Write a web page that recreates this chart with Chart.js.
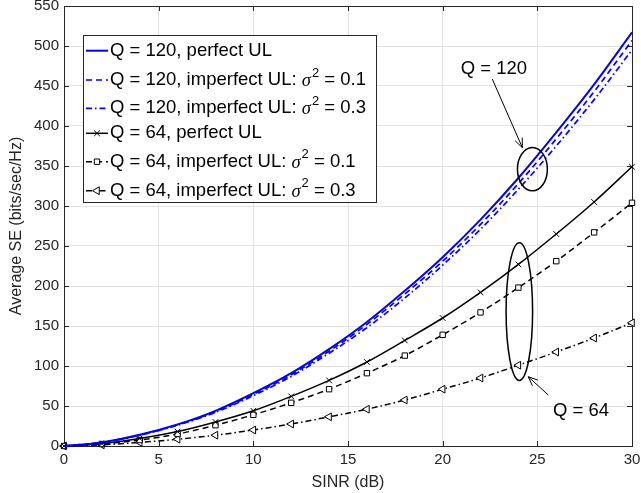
<!DOCTYPE html>
<html>
<head>
<meta charset="utf-8">
<title>Average SE vs SINR</title>
<script src="https://cdn.jsdelivr.net/npm/chart.js@4.4.1/dist/chart.umd.min.js"></script>
<style>
  html, body { margin: 0; padding: 0; background: #fff; }
  #wrap { width: 641px; height: 493px; }
</style>
</head>
<body>
<div id="wrap"><canvas id="seChart" width="641" height="493"></canvas></div>
<script>
// SINR en dB (marcadores cada 2 dB)
const sinrDb = [0, 2, 4, 6, 8, 10, 12, 14, 16, 18, 20, 22, 24, 26, 28, 30];

// Q = 120
const seQ120Perfect = [0, 4.5, 14, 27, 44, 66, 91, 121, 155, 194, 236, 283, 335, 392, 452, 517];
const seQ120Sigma01 = [0, 4.4, 13.7, 26.5, 43, 64.5, 89, 118.5, 152, 190, 231, 277, 328, 384, 443, 507];
const seQ120Sigma03 = [0, 4.3, 13.4, 26, 42, 63, 87, 116, 148, 185, 226, 271, 321, 375, 433, 495];

// Q = 64
const seQ64Perfect = [0, 3, 9.5, 18, 30, 44, 62, 82, 105, 132, 160, 192, 227, 265, 305, 349];
const seQ64Sigma01 = [0, 2.5, 7.5, 15, 26, 39, 54, 71, 91, 113, 139, 167, 198, 231, 267, 304];
const seQ64Sigma03 = [0, 1.5, 4.5, 8.5, 13.5, 20, 27.5, 36.5, 46, 57.5, 71, 85, 101, 117.5, 135, 154];

// textos de la leyenda y valor de sigma^2 (null = UL perfecto)
const seriesNames = [
  'Q = 120, perfect UL',
  'Q = 120, imperfect UL:',
  'Q = 120, imperfect UL:',
  'Q = 64, perfect UL',
  'Q = 64, imperfect UL:',
  'Q = 64, imperfect UL:'
];
const sigmaValues = [null, '0.1', '0.3', null, '0.1', '0.3'];

// ejes
const xRange = [0, 30];
const xStep = 5;
const yRange = [0, 550];
const yStep = 50;

const FONT = '"Liberation Sans", Arial, Helvetica, sans-serif';
const AXIS_COLOR = '#262626';

const toPoints = (ys) => sinrDb.map((x, i) => ({ x: x, y: ys[i] }));

const dashed = [6, 4];
const dashDot = [6, 3, 1.5, 3];

const seriesValues = [seQ120Perfect, seQ120Sigma01, seQ120Sigma03, seQ64Perfect, seQ64Sigma01, seQ64Sigma03];
const seriesStyles = [
  { borderColor: '#0000ff', borderWidth: 2, borderDash: [], pointRadius: 0 },
  { borderColor: '#0000ff', borderWidth: 1.7, borderDash: dashed, pointRadius: 0 },
  { borderColor: '#0000ff', borderWidth: 1.7, borderDash: dashDot, pointRadius: 0 },
  { borderColor: '#000', borderWidth: 1.5, borderDash: [], pointStyle: 'crossRot', pointRadius: 4, pointRotation: 0 },
  { borderColor: '#000', borderWidth: 1.5, borderDash: dashed, pointStyle: 'rect', pointRadius: 3.8, pointRotation: 0 },
  { borderColor: '#000', borderWidth: 1.5, borderDash: dashDot, pointStyle: 'triangle', pointRadius: 4.5, pointRotation: -90 }
];

const datasets = seriesValues.map((vals, i) => Object.assign({
  label: seriesNames[i] + (sigmaValues[i] ? ' \u03c3\u00b2 = ' + sigmaValues[i] : ''),
  data: toPoints(vals),
  pointBackgroundColor: '#fff',
  pointBorderColor: seriesStyles[i].borderColor,
  pointBorderWidth: 1,
  pointHoverRadius: 0,
  fill: false,
  cubicInterpolationMode: 'monotone',
  clip: false
}, seriesStyles[i]));

// marco tipo MATLAB con ticks hacia adentro
const frameAxes = {
  id: 'frameAxes',
  beforeDatasetsDraw(chart) {
    const { ctx, chartArea: a, scales } = chart;
    ctx.save();
    ctx.strokeStyle = AXIS_COLOR;
    ctx.lineWidth = 1;
    ctx.setLineDash([]);
    ctx.strokeRect(Math.round(a.left) + 0.5, Math.round(a.top) + 0.5,
      Math.round(a.right - a.left), Math.round(a.bottom - a.top));
    const len = 5;
    ctx.beginPath();
    scales.x.ticks.forEach(t => {
      const px = Math.round(scales.x.getPixelForValue(t.value)) + 0.5;
      ctx.moveTo(px, a.bottom); ctx.lineTo(px, a.bottom - len);
      ctx.moveTo(px, a.top); ctx.lineTo(px, a.top + len);
    });
    scales.y.ticks.forEach(t => {
      const py = Math.round(scales.y.getPixelForValue(t.value)) + 0.5;
      ctx.moveTo(a.left, py); ctx.lineTo(a.left + len, py);
      ctx.moveTo(a.right, py); ctx.lineTo(a.right - len, py);
    });
    ctx.stroke();
    ctx.restore();
  }
};

// leyenda dentro del area del grafico
const legendBox = {
  id: 'legendBox',
  afterDraw(chart) {
    const ctx = chart.ctx;
    const box = { x: 83.5, y: 35.5, w: 293, h: 167 };
    const rows = [50.7, 80, 108.3, 133.3, 161.7, 190.7];
    ctx.save();
    ctx.fillStyle = '#fff';
    ctx.fillRect(box.x, box.y, box.w, box.h);
    ctx.strokeStyle = AXIS_COLOR;
    ctx.lineWidth = 1;
    ctx.strokeRect(box.x, box.y, box.w, box.h);

    chart.data.datasets.forEach((ds, i) => {
      const y = rows[i];
      ctx.strokeStyle = ds.borderColor;
      ctx.lineWidth = ds.borderWidth;
      ctx.setLineDash(ds.borderDash);
      ctx.beginPath();
      ctx.moveTo(86, y);
      ctx.lineTo(108, y);
      ctx.stroke();
      if (ds.pointRadius > 0) {
        ctx.setLineDash([]);
        ctx.lineWidth = 1;
        ctx.fillStyle = '#fff';
        Chart.helpers.drawPoint(ctx, {
          pointStyle: ds.pointStyle,
          radius: ds.pointRadius,
          rotation: ds.pointRotation,
          borderWidth: 1
        }, 97, y);
      }

      ctx.fillStyle = '#000';
      ctx.textBaseline = 'middle';
      ctx.font = '18.5px ' + FONT;
      let tx = 110;
      ctx.fillText(seriesNames[i], tx, y);
      if (sigmaValues[i]) {
        tx += ctx.measureText(seriesNames[i] + ' ').width;
        ctx.font = 'italic 18.5px "Liberation Serif", "Times New Roman", serif';
        ctx.fillText('\u03c3', tx, y + 1);
        tx += ctx.measureText('\u03c3').width + 1;
        ctx.font = '13px ' + FONT;
        ctx.fillText('2', tx, y - 7);
        tx += ctx.measureText('2').width;
        ctx.font = '18.5px ' + FONT;
        ctx.fillText(' = ' + sigmaValues[i], tx, y);
      }
    });
    ctx.restore();
  }
};

// elipses, flechas y etiquetas Q = 120 / Q = 64
const groupNotes = {
  id: 'groupNotes',
  afterDraw(chart) {
    const { ctx, scales } = chart;
    const sx = (v) => scales.x.getPixelForValue(v);
    const sy = (v) => scales.y.getPixelForValue(v);
    const notes = [
      { text: 'Q = 120', tx: 22.71, ty: 471, cx: 24.74, cy: 346, rx: 0.79, ry: 27,
        from: [22.62, 458.7], to: [24.21, 372.9] },
      { text: 'Q = 64', tx: 27.31, ty: 44, cx: 24.05, cy: 168, rx: 0.70, ry: 86,
        from: [25.58, 63.7], to: [24.52, 86.6] }
    ];
    ctx.save();
    ctx.strokeStyle = '#000';
    ctx.fillStyle = '#000';
    ctx.setLineDash([]);
    notes.forEach(n => {
      const cx = sx(n.cx), cy = sy(n.cy);
      ctx.lineWidth = 1.5;
      ctx.beginPath();
      ctx.ellipse(cx, cy, sx(n.cx + n.rx) - cx, cy - sy(n.cy + n.ry), 0, 0, Math.PI * 2);
      ctx.stroke();

      const x0 = sx(n.from[0]), y0 = sy(n.from[1]);
      const x1 = sx(n.to[0]), y1 = sy(n.to[1]);
      ctx.lineWidth = 1;
      ctx.beginPath();
      ctx.moveTo(x0, y0);
      ctx.lineTo(x1, y1);
      const ang = Math.atan2(y1 - y0, x1 - x0);
      const head = 10, spread = 0.4;
      ctx.moveTo(x1 - head * Math.cos(ang - spread), y1 - head * Math.sin(ang - spread));
      ctx.lineTo(x1, y1);
      ctx.lineTo(x1 - head * Math.cos(ang + spread), y1 - head * Math.sin(ang + spread));
      ctx.stroke();

      ctx.font = '18.5px ' + FONT;
      ctx.textAlign = 'center';
      ctx.textBaseline = 'middle';
      ctx.fillText(n.text, sx(n.tx), sy(n.ty));
    });
    ctx.restore();
  }
};

Chart.defaults.font.family = FONT;
Chart.defaults.color = AXIS_COLOR;

new Chart(document.getElementById('seChart'), {
  type: 'line',
  data: { datasets: datasets },
  options: {
    responsive: false,
    animation: false,
    devicePixelRatio: 1,
    layout: { padding: { top: 6, right: 9, left: 0, bottom: 0 } },
    plugins: {
      legend: { display: false },
      tooltip: { enabled: false }
    },
    scales: {
      x: {
        type: 'linear',
        min: xRange[0],
        max: xRange[1],
        ticks: { stepSize: xStep, font: { size: 15 }, color: AXIS_COLOR, padding: 5, maxRotation: 0 },
        grid: { color: '#e3e3e3', drawTicks: false },
        border: { display: false },
        title: { display: true, text: 'SINR (dB)', font: { size: 16 }, color: AXIS_COLOR, padding: { top: 0, bottom: 0.5 } },
        afterFit(scale) {
          scale.height = 47;
          scale.paddingLeft = 0;
          scale.paddingRight = 0;
        }
      },
      y: {
        type: 'linear',
        min: yRange[0],
        max: yRange[1],
        ticks: { stepSize: yStep, font: { size: 15 }, color: AXIS_COLOR, padding: 5 },
        grid: { color: '#e3e3e3', drawTicks: false },
        border: { display: false },
        title: { display: true, text: 'Average SE (bits/sec/Hz)', font: { size: 16 }, color: AXIS_COLOR, padding: { top: 7, bottom: 7 } },
        afterFit(scale) {
          scale.width = 64;
          scale.paddingTop = 0;
          scale.paddingBottom = 0;
        }
      }
    }
  },
  plugins: [frameAxes, legendBox, groupNotes]
});
</script>
</body>
</html>
